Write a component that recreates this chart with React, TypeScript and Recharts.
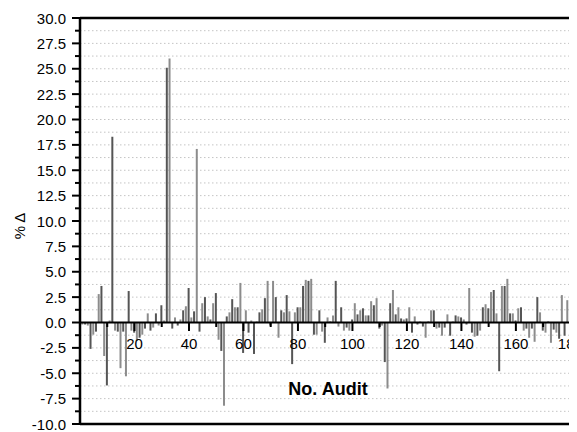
import React from "react";
import { BarChart, Bar, XAxis, YAxis, CartesianGrid, ReferenceLine, Cell } from "recharts";

const auditValues: number[] = [
  -0.2, -0.2, -0.3, -2.6, -1.2, -0.9, 2.8, 3.6, -3.3, -6.2,
  0.2, 18.3, -0.8, -0.9, -4.5, -0.9, -5.3, 3.1, -0.8, -1.0,
  -1.8, -1.5, -1.2, -0.6, 0.9, -0.8, -0.5, 0.9, -0.3, 1.7,
  0.2, 25.1, 26.0, -0.6, 0.5, -0.3, 0.3, 1.2, 1.6, 3.4,
  0.5, 1.1, 17.1, -0.9, 1.9, 2.5, 0.6, 0.3, 1.9, 2.9,
  -1.7, -2.8, -8.2, 0.6, 1.0, 2.3, 1.5, 1.5, 3.9, -3.0,
  1.2, -1.0, 0.2, -3.1, 0.1, 1.0, 1.3, 2.4, 4.1, -0.3,
  4.1, 2.5, -1.5, 1.2, 1.0, 2.7, 1.1, -4.1, 1.0, 1.5,
  1.5, 3.6, 4.2, 4.1, 4.3, -1.2, -1.2, 1.2, -0.9, -2.0,
  0.5, 0.1, 0.7, 4.1, -0.4, 1.5, -0.8, -0.5, -0.8, 0.3,
  1.9, 0.8, 1.2, 1.4, 0.7, 0.7, 2.1, 1.7, 2.4, -0.6,
  -0.3, -3.9, -6.5, 1.9, 3.2, 0.8, 1.5, 0.4, 0.3, 0.4,
  1.5, -1.0, 0.6, -0.2, 0.1, -0.4, -1.5, 0.1, 1.2, 1.2,
  -0.6, -0.5, -1.3, -0.5, 0.8, -1.3, 0.1, 0.7, 0.6, 0.5,
  0.3, -0.2, 3.4, -1.0, -1.4, -1.3, -0.8, 1.5, 1.8, 1.4,
  3.0, 3.2, 0.9, -4.8, 3.6, 3.6, 4.3, 0.9, 0.9, 0.2,
  1.4, 1.5, -0.8, -0.6, -1.5, -0.6, -1.9, 2.5, 1.0, -0.8,
  -1.0, 0.1, -2.0, -0.7, -1.0, -1.6, 2.7, -1.3, 2.2, -0.6,
  -0.8, 0.2,
];

const xTicks: number[] = [0, 10, 20, 30, 40, 50, 60, 70, 80, 90, 100, 110, 120, 130, 140, 150, 160, 170, 180];
const yTicks: number[] = [
  -10, -8.75, -7.5, -6.25, -5, -3.75, -2.5, -1.25, 0, 1.25, 2.5, 3.75, 5, 6.25, 7.5, 8.75,
  10, 11.25, 12.5, 13.75, 15, 16.25, 17.5, 18.75, 20, 21.25, 22.5, 23.75, 25, 26.25, 27.5, 28.75, 30,
];

const data = auditValues.map((v, i) => ({ n: i + 1, v }));

const FONT = "'Liberation Sans', Arial, sans-serif";
const TOP = 10;
const PLOT_H = 406;
const Y_MIN = -10;
const Y_MAX = 30;
const ZERO_Y = TOP + (PLOT_H * Y_MAX) / (Y_MAX - Y_MIN);

const YTick = (props: any) => {
  const { x, y, payload } = props;
  const v = payload.value as number;
  const major = Math.abs(v / 2.5 - Math.round(v / 2.5)) < 1e-6;
  return (
    <g>
      <line x1={x} x2={x - (major ? 8 : 5)} y1={y} y2={y} stroke="#000" strokeWidth={2} />
      {major && (
        <text x={x - 14} y={y} dy={5.5} textAnchor="end" fontSize={15} fontFamily={FONT} fill="#000">
          {v.toFixed(1)}
        </text>
      )}
    </g>
  );
};

const XTick = (props: any) => {
  const { x, payload } = props;
  const v = payload.value as number;
  const major = v % 20 === 0;
  return (
    <g>
      <line x1={x} x2={x} y1={ZERO_Y} y2={ZERO_Y + (major ? 8.5 : 4.5)} stroke="#000" strokeWidth={2} />
      {major && v > 0 && (
        <text x={x} y={ZERO_Y + 26.5} textAnchor="middle" fontSize={15} fontFamily={FONT} fill="#000">
          {v}
        </text>
      )}
    </g>
  );
};

const YLabel = (props: any) => {
  const { viewBox } = props;
  const cy = viewBox.y + viewBox.height / 2 + 5;
  return (
    <text
      transform={`translate(${viewBox.x + 17}, ${cy}) rotate(-90)`}
      textAnchor="middle"
      fontSize={15}
      fontFamily={FONT}
      fill="#000"
    >
      % Δ
    </text>
  );
};

const XLabel = (props: any) => {
  const { viewBox } = props;
  return (
    <text
      x={viewBox.x + viewBox.width / 2 - 4}
      y={viewBox.y - 29}
      textAnchor="middle"
      fontSize={18}
      fontWeight="bold"
      fontFamily={FONT}
      fill="#000"
    >
      No. Audit
    </text>
  );
};

export default function App() {
  return (
    <div style={{ width: 569, height: 424, overflow: "hidden", background: "#fff" }}>
      <BarChart
        width={600}
        height={424}
        data={data}
        margin={{ top: TOP, right: 24, bottom: 0, left: 0 }}
      >
        <CartesianGrid horizontal vertical={false} stroke="#c4c4c4" strokeDasharray="1.5 2.5" />
        <XAxis
          type="number"
          dataKey="n"
          domain={[0, 185]}
          ticks={xTicks}
          interval={0}
          height={8}
          tickSize={0}
          tickMargin={0}
          tick={<XTick />}
          axisLine={{ stroke: "#000", strokeWidth: 2.5 }}
          tickLine={false}
          allowDataOverflow
          label={<XLabel />}
        />
        <YAxis
          type="number"
          domain={[Y_MIN, Y_MAX]}
          ticks={yTicks}
          interval={0}
          width={72}
          tickSize={0}
          tickMargin={0}
          tick={<YTick />}
          axisLine={{ stroke: "#000", strokeWidth: 2.5 }}
          tickLine={false}
          allowDataOverflow
          label={<YLabel />}
        />
        <Bar dataKey="v" barSize={2} isAnimationActive={false}>
          {data.map((d, i) => (
            <Cell key={i} fill={d.n % 2 === 0 ? "#555555" : "#8c8c8c"} />
          ))}
        </Bar>
        <ReferenceLine y={0} stroke="#000" strokeWidth={2} />
        <ReferenceLine y={30} stroke="#000" strokeWidth={2.5} />
      </BarChart>
    </div>
  );
}
